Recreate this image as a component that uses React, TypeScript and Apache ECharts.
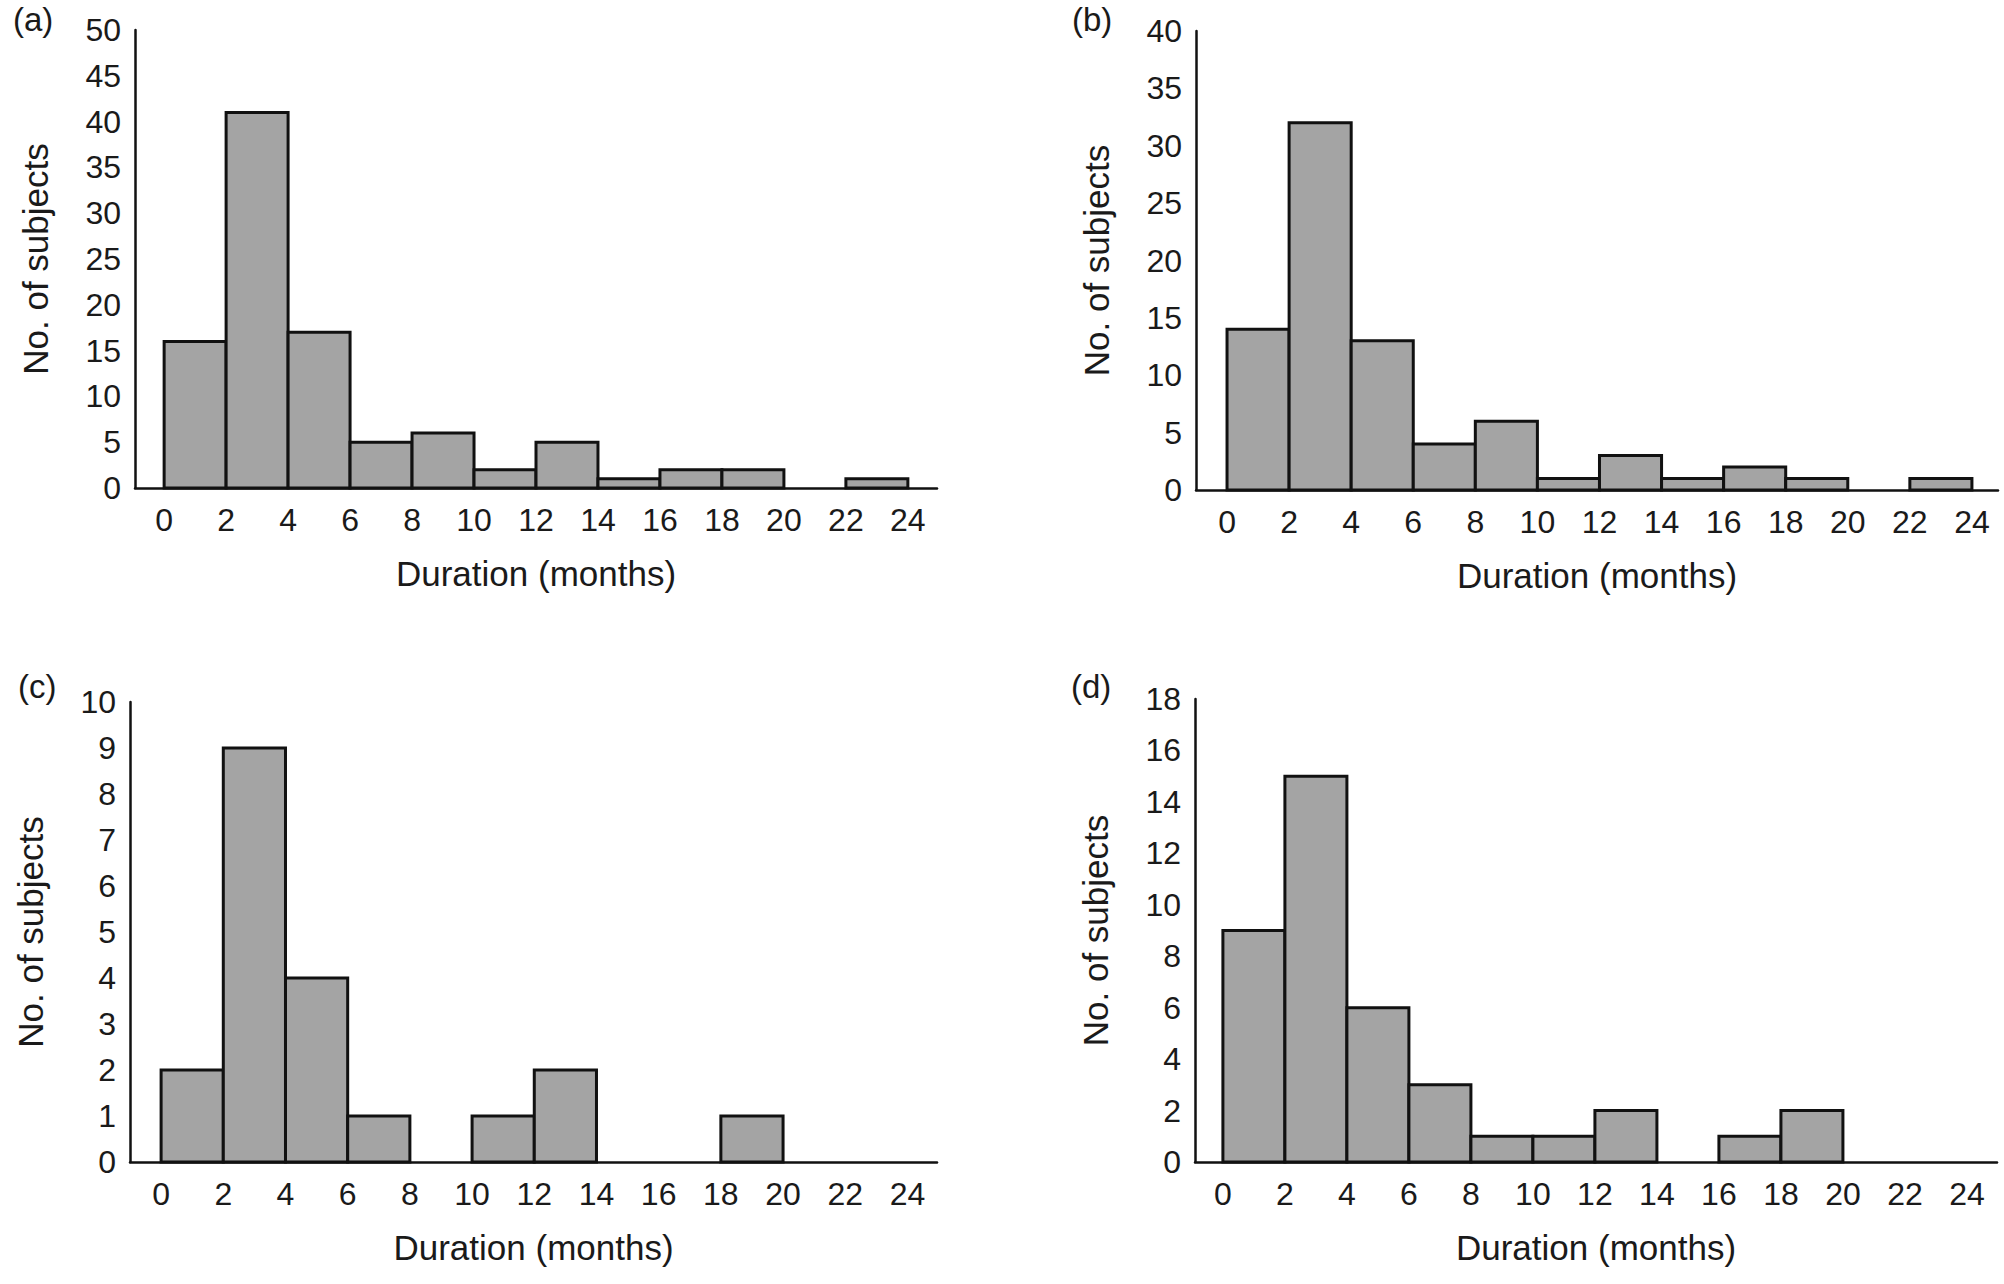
import React, { useEffect, useRef } from "react";
import * as echarts from "echarts";

// ---- data ----
const binStarts = [0, 2, 4, 6, 8, 10, 12, 14, 16, 18, 20, 22];
const binWidth = 2;
const xTickValues = [0, 2, 4, 6, 8, 10, 12, 14, 16, 18, 20, 22, 24];
const countsA = [16, 41, 17, 5, 6, 2, 5, 1, 2, 2, 0, 1];
const countsB = [14, 32, 13, 4, 6, 1, 3, 1, 2, 1, 0, 1];
const countsC = [2, 9, 4, 1, 0, 1, 2, 0, 0, 1, 0, 0];
const countsD = [9, 15, 6, 3, 1, 1, 2, 0, 1, 2, 0, 0];
const panelLabels = ["(a)", "(b)", "(c)", "(d)"];
const yMaxes = [50, 40, 10, 18];
const yIntervals = [5, 5, 1, 2];
const xTitle = "Duration (months)";
const yTitle = "No. of subjects";

const FONT = "'Liberation Sans', Arial, Helvetica, sans-serif";
const TEXT = "#1a1a1a";

// layout per panel (page pixels)
const grids = [
  { left: 135, top: 30, width: 802, height: 458, xMin: -0.94, xMax: 24.94 },
  { left: 1196, top: 31, width: 802, height: 459, xMin: -1.0, xMax: 24.84 },
  { left: 130, top: 702, width: 807, height: 460, xMin: -1.0, xMax: 24.95 },
  { left: 1195, top: 699, width: 802, height: 463, xMin: -0.9, xMax: 24.97 },
];
const labelPos = [
  { left: 13, top: 3 },
  { left: 1072, top: 3 },
  { left: 18, top: 670 },
  { left: 1071, top: 670 },
];

export default function App() {
  const ref = useRef<HTMLDivElement>(null);
  useEffect(() => {
    if (!ref.current) return;
    const chart = echarts.init(ref.current, undefined, { renderer: "svg" });
    const allCounts = [countsA, countsB, countsC, countsD];

    const option: any = {
      animation: false,
      backgroundColor: "#ffffff",
      title: panelLabels.map((t, i) => ({
        text: t,
        left: labelPos[i].left,
        top: labelPos[i].top,
        padding: 0,
        textStyle: { fontFamily: FONT, fontSize: 33, fontWeight: "normal", color: TEXT },
      })),
      grid: grids.map((g) => ({ left: g.left, top: g.top, width: g.width, height: g.height })),
      xAxis: grids.map((g, i) => ({
        type: "value",
        gridIndex: i,
        min: g.xMin,
        max: g.xMax,
        name: xTitle,
        nameLocation: "middle",
        nameGap: 68,
        nameTextStyle: { fontFamily: FONT, fontSize: 35, color: TEXT },
        axisLine: { show: true, onZero: false, lineStyle: { color: "#111", width: 2.5 } },
        axisTick: { show: false },
        splitLine: { show: false },
        axisLabel: {
          customValues: xTickValues,
          fontFamily: FONT,
          fontSize: 32,
          color: TEXT,
          margin: 16,
        },
      })),
      yAxis: grids.map((g, i) => ({
        type: "value",
        gridIndex: i,
        min: 0,
        max: yMaxes[i],
        interval: yIntervals[i],
        name: yTitle,
        nameLocation: "middle",
        nameGap: 82,
        nameTextStyle: { fontFamily: FONT, fontSize: 35, color: TEXT },
        axisLine: { show: true, onZero: false, lineStyle: { color: "#111", width: 2.5 } },
        axisTick: { show: false },
        splitLine: { show: false },
        axisLabel: { fontFamily: FONT, fontSize: 32, color: TEXT, margin: 14 },
      })),
      series: allCounts.map((counts, i) => ({
        type: "custom",
        xAxisIndex: i,
        yAxisIndex: i,
        encode: { x: [0, 1], y: 2 },
        data: binStarts.map((s, k) => [s, s + binWidth, counts[k]]),
        renderItem: (params: any, api: any) => {
          const x0 = api.value(0);
          const x1 = api.value(1);
          const v = api.value(2);
          if (!v) return null;
          const p0 = api.coord([x0, v]);
          const p1 = api.coord([x1, 0]);
          return {
            type: "rect",
            shape: { x: p0[0], y: p0[1], width: p1[0] - p0[0], height: p1[1] - p0[1] },
            style: { fill: "#a4a4a4", stroke: "#111111", lineWidth: 3 },
          };
        },
      })),
    };
    chart.setOption(option);
    return () => chart.dispose();
  }, []);

  return (
    <div
      ref={ref}
      style={{ position: "fixed", left: 0, top: 0, width: 2004, height: 1284, background: "#fff" }}
    />
  );
}
